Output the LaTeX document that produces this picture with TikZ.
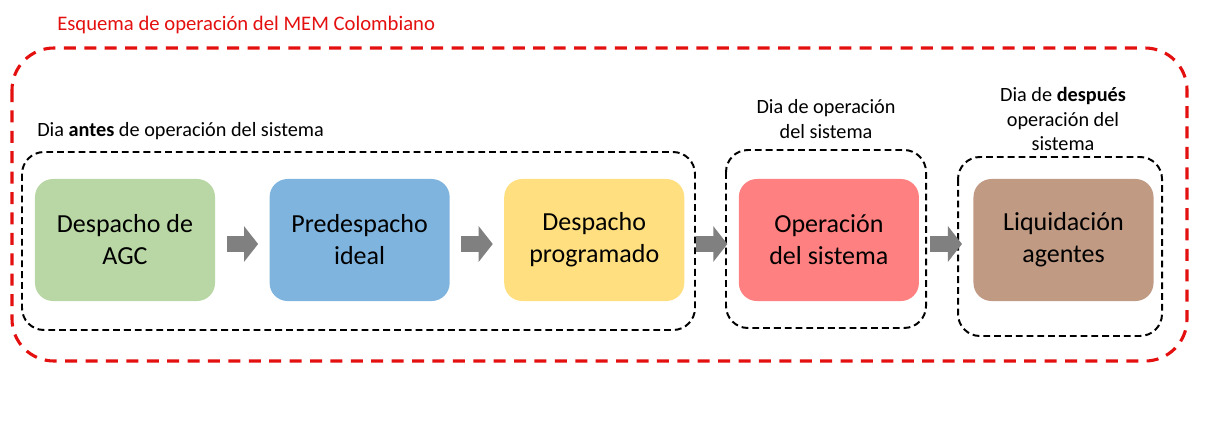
\documentclass[tikz,border=0pt]{standalone}
\usepackage{fontspec}
\setmainfont{Carlito}
\usepackage{xcolor}
\usetikzlibrary{arrows.meta,positioning}

\definecolor{verdeagc}{RGB}{185,215,164}
\definecolor{azulpre}{RGB}{127,180,222}
\definecolor{amarillodes}{RGB}{255,223,128}
\definecolor{rojoop}{RGB}{255,128,128}
\definecolor{cafeliq}{RGB}{192,154,130}
\definecolor{grisflecha}{RGB}{128,128,128}
\definecolor{rojomarco}{RGB}{228,16,16}

\tikzset{
    caja/.style={rectangle, rounded corners=0.45cm, minimum width=4.5cm, minimum height=3.05cm,
        align=center, inner sep=0pt, font=\fontsize{18.5}{22.8}\selectfont},
    flecha/.style={draw=grisflecha, line width=0.42cm, -{Triangle[length=0.35cm, width=0.87cm]},
        shorten <=0.28cm, shorten >=0.28cm},
    grupo/.style={draw, line width=1.4pt, dash pattern=on 0.17cm off 0.1cm, rounded corners=0.55cm},
    etiqueta/.style={align=center, inner sep=0pt, font=\fontsize{14.4}{17.2}\selectfont},
}

\begin{document}
\begin{tikzpicture}[x=0.025cm, y=-0.025cm]
    \useasboundingbox (0,0) rectangle (1207,429);
    \node[anchor=west, inner sep=0pt, text=rojomarco, font=\fontsize{14.7}{17}\selectfont] (titulo) at (57,25) {Esquema de operación del MEM Colombiano};
    \draw[draw=rojomarco, line width=2.2pt, dash pattern=on 0.3cm off 0.21cm, rounded corners=1.05cm] (12,48) rectangle (1187,361);

    \node[caja, fill=verdeagc] (agc) at (125,240) {Despacho de\\AGC};
    \node[caja, fill=azulpre, right=1.35cm of agc] (ideal) {Predespacho\\ideal};
    \node[caja, fill=amarillodes, right=1.35cm of ideal] (programado) {Despacho\\programado};
    \node[caja, fill=rojoop, right=1.35cm of programado] (operacion) {Operación\\del sistema};
    \node[caja, fill=cafeliq, right=1.35cm of operacion] (liquidacion) {Liquidación\\agentes};

    \draw[grupo] (22,152) rectangle (695,330);
    \draw[grupo] (726,150) rectangle (926,328);
    \draw[grupo] (958,157) rectangle (1162,336);

    \node[etiqueta, anchor=west] (antes) at (37,131) {Dia \textbf{antes} de operación del sistema};
    \node[etiqueta] (durante) at (826,119) {Dia de operación\\del sistema};
    \node[etiqueta] (despues) at (1063,119) {Dia de \textbf{después}\\operación del\\sistema};

    \draw[flecha] ([yshift=-0.1cm]agc.east) -- ([yshift=-0.1cm]ideal.west);
    \draw[flecha] ([yshift=-0.1cm]ideal.east) -- ([yshift=-0.1cm]programado.west);
    \draw[flecha] ([yshift=-0.1cm]programado.east) -- ([yshift=-0.1cm]operacion.west);
    \draw[flecha] ([yshift=-0.1cm]operacion.east) -- ([yshift=-0.1cm]liquidacion.west);
\end{tikzpicture}
\end{document}
